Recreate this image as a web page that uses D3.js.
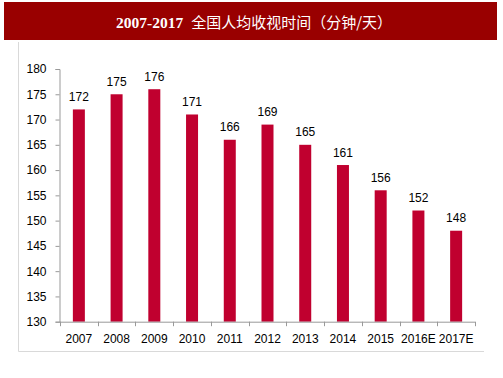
<!DOCTYPE html>
<html><head><meta charset="utf-8">
<script src="https://cdn.jsdelivr.net/npm/d3@7/dist/d3.min.js"></script>
<style>body{margin:0;background:#fff}svg{display:block}</style>
</head><body>
<script>
const titleYears = "2007-2017";
const titleMain = "全国人均收视时间（分钟/天）";
const categories = ["2007","2008","2009","2010","2011","2012","2013","2014","2015","2016E","2017E"];
const values = [172,175,176,171,166,169,165,161,156,152,148];
const yTicks = [130,135,140,145,150,155,160,165,170,175,180];

const W = 503, H = 378;
const svg = d3.select("body").append("svg").attr("width", W).attr("height", H);

// title banner
svg.append("rect").attr("x", 4).attr("y", 2).attr("width", 493).attr("height", 38).attr("fill", "#990000");
const t = svg.append("text").attr("x", 116).attr("y", 28).attr("fill", "#fff");
t.append("tspan").attr("font-size", 15.5).attr("font-weight", "bold")
  .attr("font-family", "'Liberation Serif',serif").text(titleYears);
t.append("tspan").attr("dx", 8).attr("font-size", 15)
  .attr("font-family", "'Noto Sans CJK SC',sans-serif").text(titleMain);

// frame lines
svg.append("line").attr("x1", 18.5).attr("x2", 18.5).attr("y1", 42).attr("y2", 351.5).attr("stroke", "#d9d9d9");
svg.append("line").attr("x1", 18.5).attr("x2", 484).attr("y1", 351.5).attr("y2", 351.5).attr("stroke", "#d9d9d9");

const x0 = 60, x1 = 475, yTop = 69, yBot = 321.7;
const x = d3.scaleBand().domain(categories).range([x0, x1]).padding(0);
const y = d3.scaleLinear().domain([130, 180]).range([yBot, yTop]);
const font = "'Liberation Sans',Arial,sans-serif";
const axisColor = "#999";

// y axis
const gy = svg.append("g").attr("transform", `translate(${x0 - 0.5},0)`)
  .call(d3.axisLeft(y).tickValues(yTicks).tickSize(4).tickSizeOuter(4).tickPadding(9).tickFormat(d3.format("d")));
gy.selectAll("path,line").attr("stroke", axisColor);
gy.selectAll("text").attr("font-size", 12).attr("font-family", font).attr("fill", "#000");

// bars
const bw = 12;
svg.selectAll("rect.bar").data(values).join("rect").attr("class", "bar")
  .attr("x", (d, i) => x(categories[i]) + x.bandwidth() / 2 - bw / 2)
  .attr("width", bw)
  .attr("y", d => y(d))
  .attr("height", d => yBot - y(d))
  .attr("fill", "#C0002F");

// value labels
svg.selectAll("text.val").data(values).join("text").attr("class", "val")
  .attr("x", (d, i) => x(categories[i]) + x.bandwidth() / 2)
  .attr("y", d => y(d) - 8.5)
  .attr("text-anchor", "middle").attr("font-size", 12).attr("font-family", font).attr("fill", "#000")
  .text(d => d);

// x axis
const gx = svg.append("g").attr("transform", `translate(0,${yBot})`);
gx.append("line").attr("x1", x0 - 0.5).attr("x2", x1).attr("y1", 0.5).attr("y2", 0.5).attr("stroke", axisColor);
const bounds = categories.map(c => x(c)).concat([x1]);
gx.selectAll("line.tk").data(bounds).join("line").attr("class", "tk")
  .attr("x1", d => Math.round(d) + 0.5).attr("x2", d => Math.round(d) + 0.5)
  .attr("y1", 0).attr("y2", 4.5).attr("stroke", axisColor);
gx.selectAll("text").data(categories).join("text")
  .attr("x", d => x(d) + x.bandwidth() / 2).attr("y", 21)
  .attr("text-anchor", "middle").attr("font-size", 12).attr("font-family", font).attr("fill", "#000")
  .text(d => d);
</script>
</body></html>
